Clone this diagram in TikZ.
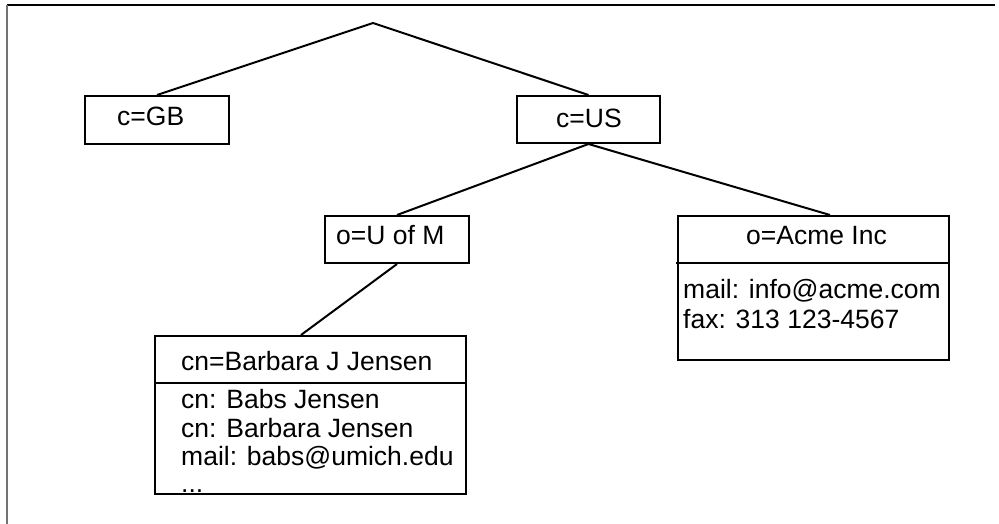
\documentclass[tikz,border=0pt]{standalone}
\usepackage{fontspec}
\setmainfont{Liberation Sans}
\usetikzlibrary{calc}
\begin{document}
\begin{tikzpicture}[x=1pt,y=-1pt,
  box/.style={draw=black, line width=2pt, rectangle, inner sep=0pt},
  lbl/.style={inner sep=0pt, anchor=base west, font=\fontsize{26.5}{30}\selectfont},
  edge/.style={line width=2pt},
  frame/.style={line width=1.2pt}]
\useasboundingbox (0,0) rectangle (999,524);
% frame
\draw[frame, black] (7,5) -- (995,5);
\draw[frame, black!55] (7,5) -- (7,524);
% boxes
\coordinate (root) at (373,23);
\node[box, minimum width=144pt, minimum height=48pt] (gb) at (157,120) {};
\node[box, minimum width=143pt, minimum height=47pt] (us) at (588.5,119.5) {};
\node[box, minimum width=144pt, minimum height=47pt] (uofm) at (397,239.5) {};
\node[box, minimum width=271pt, minimum height=144pt] (acme) at (813.5,288) {};
\node[box, minimum width=311pt, minimum height=158pt] (bjj) at (310.5,415) {};
% separators
\coordinate (acmesepL) at (676,263);
\coordinate (acmesepR) at (acme.east |- acmesepL);
\draw[edge] (acmesepL) -- (acmesepR);
\coordinate (bjjsepL) at (bjj.west |- 0,383);
\coordinate (bjjsepR) at (bjj.east |- 0,383);
\draw[edge] (bjjsepL) -- (bjjsepR);
% texts
\node[lbl] (tgb) at (117,126) {c=GB};
\node[lbl] (tus) at (556,128) {c=US};
\node[lbl] (tuofm) at (336,244) {o=U of M};
\node[lbl] (tacme) at (746,244) {o=Acme Inc};
\node[lbl] (tacme1) at (683,298) {mail: info@acme.com};
\node[lbl] (tacme2) at (683,328) {fax: 313 123-4567};
\node[lbl] (tbjj) at (181,370) {cn=Barbara J Jensen};
\node[lbl] (tbjj1) at (181,408) {cn: Babs Jensen};
\node[lbl] (tbjj2) at (181,437) {cn: Barbara Jensen};
\node[lbl] (tbjj3) at (181,465) {mail: babs@umich.edu};
\node[lbl] (tbjj4) at (181,492) {...};
% connectors
\draw[edge] (root) -- (gb.north);
\draw[edge] (root) -- (us.north);
\draw[edge] (us.south) -- (uofm.north);
\draw[edge] (us.south) -- ($(acme.north)+(16.5,0)$);
\draw[edge] (uofm.south) -- ($(bjj.north)+(-9.5,0)$);
\end{tikzpicture}
\end{document}
